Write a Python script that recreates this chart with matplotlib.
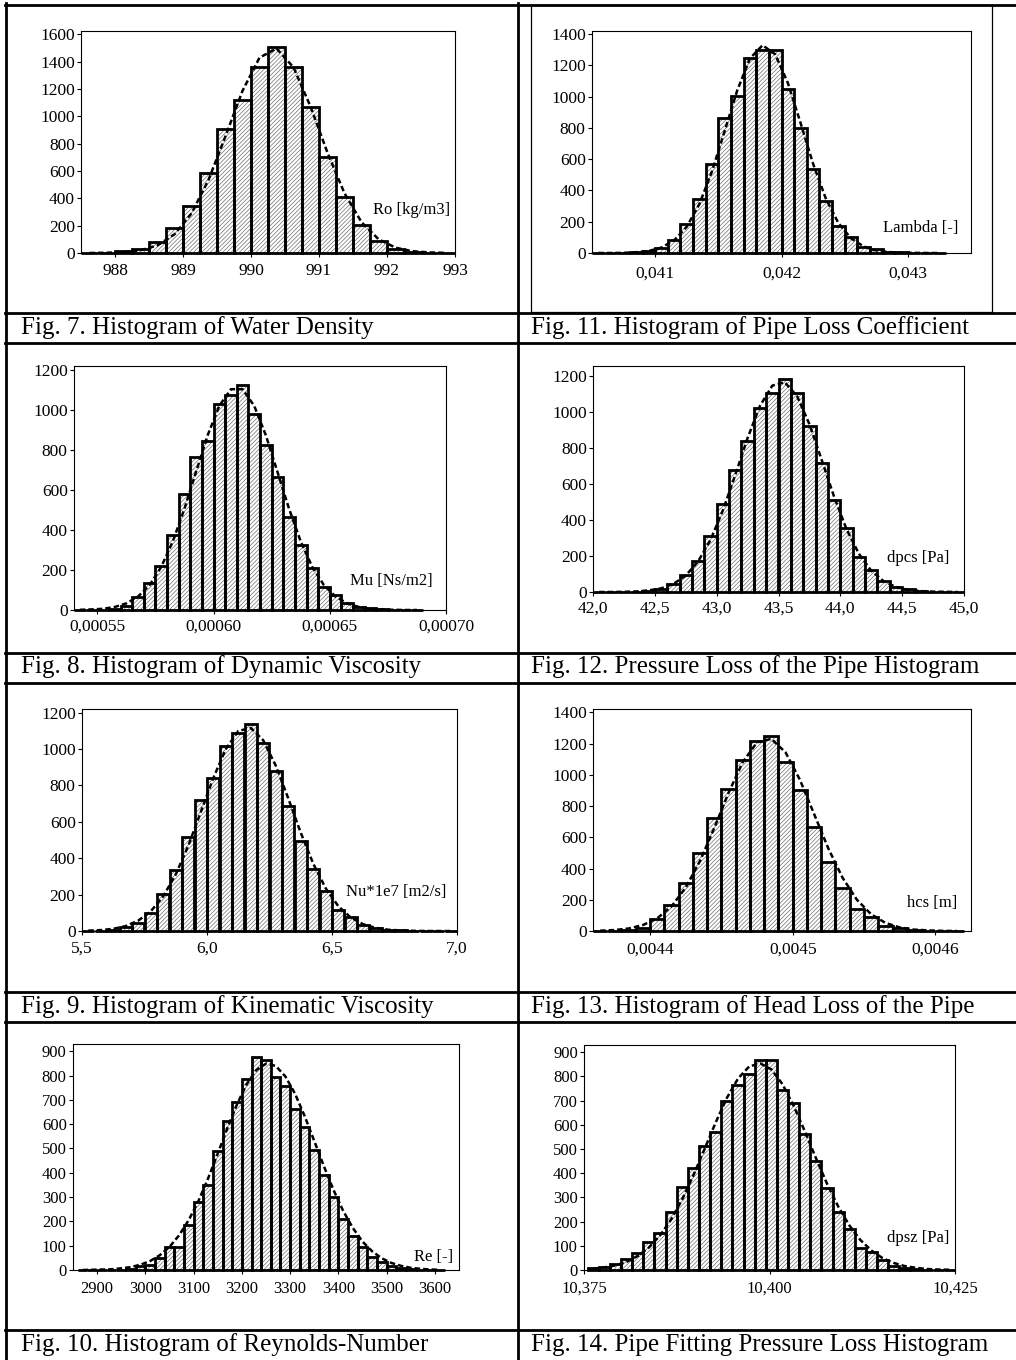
import numpy as np
import matplotlib
matplotlib.use('Agg')
import matplotlib.pyplot as plt
from matplotlib.lines import Line2D
from matplotlib.patches import Rectangle

plt.rcParams['font.family'] = ['Liberation Serif', 'DejaVu Serif']
plt.rcParams['hatch.linewidth'] = 0.5
plt.rcParams['hatch.color'] = '#707070'

W, H = 1016, 1360

# Fig. 7 water density
ro_start, ro_width = 987.5, 0.25
ro_counts = [0, 1, 12, 28, 80, 180, 343, 582, 911, 1120, 1364, 1510, 1364, 1067,
             704, 409, 205, 88, 28, 8, 2, 1]
ro_curve = [0, 2, 6, 20, 56, 137, 290, 535, 855, 1187, 1430, 1497, 1359, 1072,
            734, 437, 226, 101, 39, 13, 4, 1]
ro_xticks = [988, 989, 990, 991, 992, 993]
ro_xlabels = ['988', '989', '990', '991', '992', '993']

# Fig. 11 pipe loss coefficient
lam_start, lam_width = 0.0405, 0.0001
lam_counts = [0, 0, 1, 4, 10, 30, 85, 187, 345, 570, 864, 1004, 1245, 1298, 1296,
              1051, 798, 536, 332, 174, 102, 38, 25, 7, 4, 2, 1, 0]
lam_curve = [0, 0, 1, 5, 13, 35, 81, 168, 313, 523, 780, 1041, 1244, 1329, 1271,
             1088, 834, 571, 350, 192, 94, 42, 16, 6, 2, 1, 0, 0]
lam_xticks = [0.041, 0.042, 0.043]
lam_xlabels = ['0,041', '0,042', '0,043']

# Fig. 8 dynamic viscosity
mu_start, mu_width = 0.00054, 0.000005
mu_counts = [0, 1, 2, 5, 20, 67, 133, 222, 375, 578, 763, 847, 1028, 1075, 1125,
             980, 827, 663, 467, 325, 208, 113, 75, 37, 17, 8, 4, 2, 1, 0]
mu_curve = [1, 3, 6, 15, 33, 67, 124, 215, 343, 506, 691, 874, 1021, 1104, 1104,
            1021, 874, 691, 506, 343, 215, 124, 67, 33, 15, 6, 3, 1, 0, 0]
mu_xticks = [0.00055, 0.00060, 0.00065, 0.00070]
mu_xlabels = ['0,00055', '0,00060', '0,00065', '0,00070']

# Fig. 12 pressure loss of the pipe
dpcs_start, dpcs_width = 42.0, 0.1
dpcs_counts = [0, 0, 0, 2, 5, 17, 44, 96, 174, 311, 488, 677, 836, 1024, 1104,
               1181, 1104, 923, 716, 510, 353, 196, 124, 61, 28, 15, 6, 2, 1, 0]
dpcs_curve = [0, 0, 1, 3, 9, 20, 45, 91, 170, 289, 453, 649, 855, 1033, 1146,
              1165, 1088, 932, 732, 528, 349, 212, 118, 60, 28, 12, 5, 2, 1, 0]
dpcs_xticks = [42.0, 42.5, 43.0, 43.5, 44.0, 44.5, 45.0]
dpcs_xlabels = ['42,0', '42,5', '43,0', '43,5', '44,0', '44,5', '45,0']

# Fig. 9 kinematic viscosity
nu_start, nu_width = 5.5, 0.05
nu_counts = [0, 1, 3, 22, 46, 101, 202, 334, 517, 719, 839, 1017, 1086, 1138, 1031,
             881, 688, 492, 338, 218, 117, 79, 35, 15, 8, 4, 2, 1, 0, 0]
nu_curve = [2, 5, 12, 27, 57, 108, 191, 311, 468, 653, 840, 999, 1099, 1116, 1048,
            909, 729, 540, 370, 234, 137, 74, 37, 17, 7, 3, 1, 0, 0, 0]
nu_xticks = [5.5, 6.0, 6.5, 7.0]
nu_xlabels = ['5,5', '6,0', '6,5', '7,0']

# Fig. 13 head loss of the pipe
hcs_start, hcs_width = 0.00436, 0.00001
hcs_counts = [0, 2, 6, 20, 79, 165, 306, 502, 722, 908, 1096, 1214, 1250, 1081,
              904, 665, 440, 274, 139, 88, 32, 17, 6, 3, 1, 0]
hcs_curve = [2, 6, 16, 38, 81, 157, 278, 448, 659, 884, 1081, 1208, 1230, 1143,
             969, 749, 528, 340, 200, 107, 52, 23, 9, 4, 1, 0]
hcs_xticks = [0.0044, 0.0045, 0.0046]
hcs_xlabels = ['0,0044', '0,0045', '0,0046']

# Fig. 10 Reynolds number
re_start, re_width = 2860, 20
re_counts = [0, 0, 0, 1, 2, 5, 15, 20, 48, 95, 95, 187, 280, 348, 490, 615, 691,
             786, 877, 866, 794, 756, 662, 588, 495, 390, 302, 209, 140, 96, 55,
             32, 16, 8, 4, 2, 1, 0]
re_curve = [0, 1, 2, 3, 7, 12, 22, 37, 61, 95, 143, 206, 284, 377, 479, 584, 682,
            765, 823, 849, 840, 797, 726, 634, 531, 427, 329, 243, 173, 117, 77,
            48, 29, 17, 9, 5, 2, 1]
re_xticks = [2900, 3000, 3100, 3200, 3300, 3400, 3500, 3600]
re_xlabels = ['2900', '3000', '3100', '3200', '3300', '3400', '3500', '3600']

# Fig. 14 pipe fitting pressure loss
dpsz_start, dpsz_width = 10.3755, 0.0015
dpsz_counts = [7, 14, 25, 44, 71, 114, 155, 240, 344, 422, 514, 570, 698, 765, 811,
               866, 868, 742, 690, 561, 451, 337, 238, 168, 92, 73, 41, 18, 10, 5,
               2, 1, 0]
dpsz_curve = [5, 11, 19, 34, 58, 93, 143, 209, 293, 392, 500, 610, 711, 791, 841,
              854, 829, 768, 679, 574, 463, 357, 263, 185, 124, 80, 49, 29, 16, 9,
              4, 2, 1]
dpsz_xticks = [10.375, 10.400, 10.425]
dpsz_xlabels = ['10,375', '10,400', '10,425']

captions = ['Fig. 7. Histogram of Water Density',
            'Fig. 11. Histogram of Pipe Loss Coefficient',
            'Fig. 8. Histogram of Dynamic Viscosity',
            'Fig. 12. Pressure Loss of the Pipe Histogram',
            'Fig. 9. Histogram of Kinematic Viscosity',
            'Fig. 13. Histogram of Head Loss of the Pipe',
            'Fig. 10. Histogram of Reynolds-Number',
            'Fig. 14. Pipe Fitting Pressure Loss Histogram']
var_labels = ['Ro [kg/m3]', 'Lambda [-]', 'Mu [Ns/m2]', 'dpcs [Pa]',
              'Nu*1e7 [m2/s]', 'hcs [m]', 'Re [-]', 'dpsz [Pa]']

data = [
    (ro_start, ro_width, ro_counts, ro_curve, ro_xticks, ro_xlabels, 1600, 200),
    (lam_start, lam_width, lam_counts, lam_curve, lam_xticks, lam_xlabels, 1400, 200),
    (mu_start, mu_width, mu_counts, mu_curve, mu_xticks, mu_xlabels, 1200, 200),
    (dpcs_start, dpcs_width, dpcs_counts, dpcs_curve, dpcs_xticks, dpcs_xlabels, 1200, 200),
    (nu_start, nu_width, nu_counts, nu_curve, nu_xticks, nu_xlabels, 1200, 200),
    (hcs_start, hcs_width, hcs_counts, hcs_curve, hcs_xticks, hcs_xlabels, 1400, 200),
    (re_start, re_width, re_counts, re_curve, re_xticks, re_xlabels, 900, 100),
    (dpsz_start, dpsz_width, dpsz_counts, dpsz_curve, dpsz_xticks, dpsz_xlabels, 900, 100),
]

# layout: plot box in pixels (x0, y0, x1, y1), xlim, ylim top, label pos, tick font, x pad
layout = [
    ((81, 31, 455, 253), (987.5, 993), 1625, (450, 210), 12.5, 4),
    ((592, 31, 971, 253), (0.0405, 0.0435), 1420, (958, 228), 12.5, 6),
    ((74, 366, 446, 610), (0.00054, 0.0007), 1220, (433, 581), 12.5, 3),
    ((593, 366, 964, 592), (42, 45), 1255, (949, 558), 12.5, 3),
    ((82, 709, 457, 931), (5.5, 7.0), 1220, (446, 892), 12.5, 4),
    ((593, 709, 971, 931), (0.00436, 0.004625), 1421, (957, 903), 12.5, 5),
    ((73, 1044, 459, 1270), (2850, 3650), 930, (453, 1257), 12, 5),
    ((584, 1045, 955, 1270), (10.375, 10.425), 930, (949, 1238), 12, 5),
]

fig = plt.figure(figsize=(W / 100, H / 100), dpi=100)


def fx(x):
    return x / W


def fy(y):
    return 1 - y / H


for i in range(8):
    start, width, counts, curve, xt, xl, ymax, ystep = data[i]
    (x0, y0, x1, y1), xlim, ytop, (lx, ly), fs, xpad = layout[i]
    ax = fig.add_axes([fx(x0), fy(y1), fx(x1) - fx(x0), (y1 - y0) / H])
    lefts = start + width * np.arange(len(counts))
    ax.bar(lefts, counts, width=width, align='edge', color='white',
           edgecolor='#707070', hatch='////////', linewidth=0, zorder=2)
    ax.bar(lefts, counts, width=width, align='edge', fill=False,
           edgecolor='black', linewidth=2.0, zorder=3, clip_on=False)
    ax.plot(lefts + width / 2, curve, color='black', lw=1.8,
            ls=(0, (2.2, 1.2)), zorder=4)
    ax.set_xlim(*xlim)
    ax.set_ylim(0, ytop)
    ax.set_yticks(np.arange(0, ymax + 1, ystep))
    ax.set_xticks(xt)
    ax.set_xticklabels(xl)
    ax.tick_params(axis='y', direction='out', length=3, width=0.8, pad=1.5,
                   labelsize=fs, left=True, right=False)
    ax.tick_params(axis='x', direction='out', length=3, width=0.8, pad=xpad,
                   labelsize=fs, top=False)
    for s in ax.spines.values():
        s.set_linewidth(0.8)
        s.set_color('black')
    ax.set_facecolor('white')
    fig.text(fx(lx), fy(ly), var_labels[i], ha='right', va='center', fontsize=12)

# table grid
for y in [4.5, 313, 343, 653, 683, 992, 1022, 1330]:
    fig.add_artist(Line2D([fx(5), 1], [fy(y), fy(y)], color='black', lw=2.0))
for x in [6, 517.5]:
    fig.add_artist(Line2D([fx(x), fx(x)], [fy(3), 0], color='black', lw=2.0))
# chart area border of Fig. 11
fig.add_artist(Rectangle((fx(531), fy(312)), fx(992) - fx(531), fy(4.5) - fy(312),
                         fill=False, edgecolor='black', lw=0.9))

cap_y = [334, 334, 673, 673, 1013, 1013, 1351, 1351]
cap_x = [21, 531]
for i, c in enumerate(captions):
    fig.text(fx(cap_x[i % 2]), fy(cap_y[i]), c, ha='left', va='baseline', fontsize=18)

fig.savefig('out.png', dpi=100)
